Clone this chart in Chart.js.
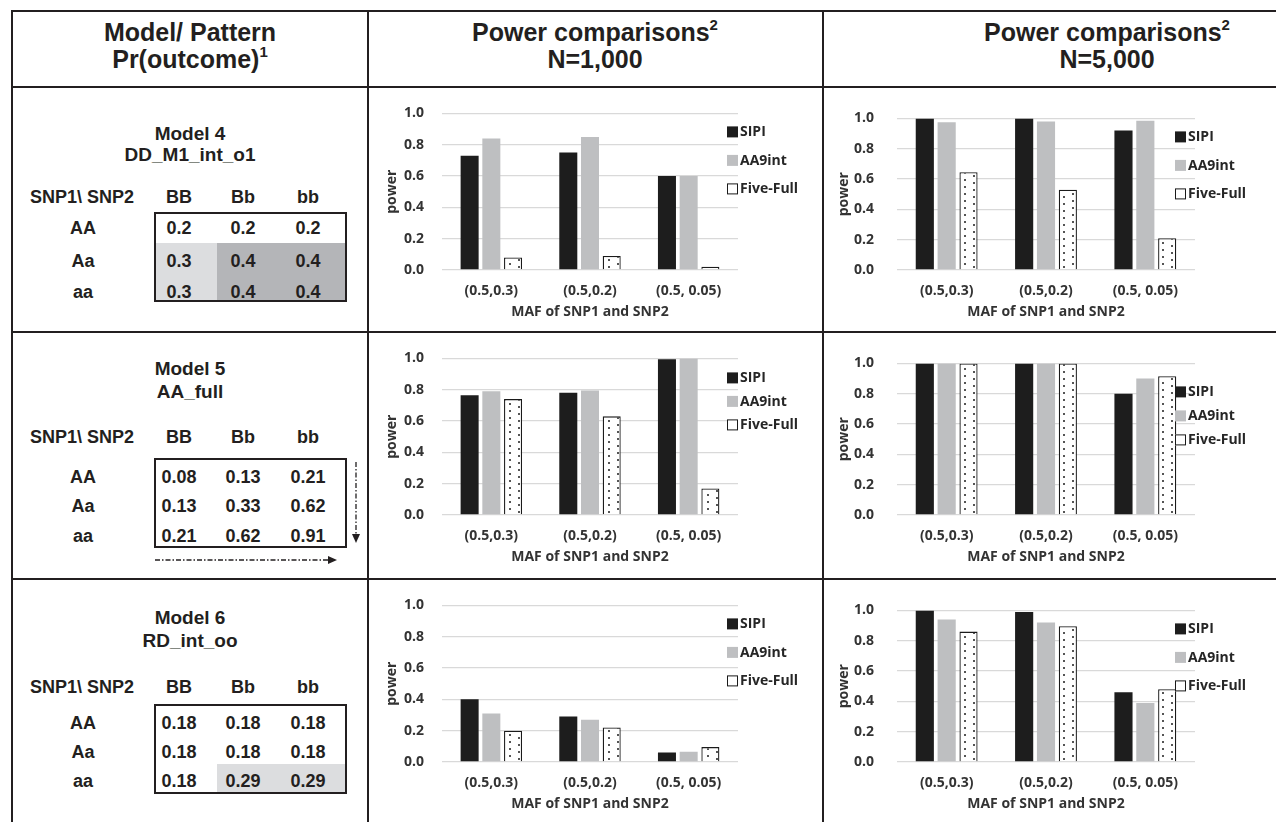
<!DOCTYPE html>
<html>
<head>
<meta charset="utf-8">
<script src="https://cdn.jsdelivr.net/npm/chart.js@4.4.1/dist/chart.umd.min.js"></script>
<style>
  body { margin: 0; width: 1276px; height: 822px; overflow: hidden; background: #fff; position: relative;
         font-family: "Liberation Sans", Arial, sans-serif; color: #231f20; }
  .ln { position: absolute; background: #231f20; }
  .t { position: absolute; font-weight: bold; white-space: nowrap; transform: translate(-50%, -50%); line-height: 1; }
  .box { position: absolute; border: 2px solid #231f20; box-sizing: border-box; }
  .shade { position: absolute; }
  canvas { position: absolute; }
  sup { font-size: 15px; vertical-align: top; position: relative; top: -3px; }
</style>
</head>
<body>
<script>
// categories / legend / ticks
const categories = ['(0.5,0.3)', '(0.5,0.2)', '(0.5, 0.05)'];
const seriesNames = ['SIPI', 'AA9int', 'Five-Full'];
const yTicks = [0, 0.2, 0.4, 0.6, 0.8, 1.0];

// Model 4  DD_M1_int_o1
const m4n1000Sipi = [0.73, 0.75, 0.60];
const m4n1000Aa9 = [0.84, 0.85, 0.60];
const m4n1000Five = [0.08, 0.09, 0.02];
const m4n5000Sipi = [1.00, 1.00, 0.92];
const m4n5000Aa9 = [0.975, 0.98, 0.985];
const m4n5000Five = [0.645, 0.53, 0.21];

// Model 5  AA_full
const m5n1000Sipi = [0.765, 0.78, 0.995];
const m5n1000Aa9 = [0.79, 0.795, 1.00];
const m5n1000Five = [0.74, 0.63, 0.17];
const m5n5000Sipi = [1.00, 1.00, 0.80];
const m5n5000Aa9 = [1.00, 1.00, 0.90];
const m5n5000Five = [1.00, 1.00, 0.915];

// Model 6  RD_int_oo
const m6n1000Sipi = [0.40, 0.29, 0.06];
const m6n1000Aa9 = [0.31, 0.27, 0.065];
const m6n1000Five = [0.20, 0.22, 0.095];
const m6n5000Sipi = [1.00, 0.99, 0.46];
const m6n5000Aa9 = [0.94, 0.92, 0.39];
const m6n5000Five = [0.86, 0.895, 0.48];

// left column tables
const snp1Labels = ['AA', 'Aa', 'aa'];
const snp2Labels = ['BB', 'Bb', 'bb'];
const model4Title = ['Model 4', 'DD_M1_int_o1'];
const model5Title = ['Model 5', 'AA_full'];
const model6Title = ['Model 6', 'RD_int_oo'];
const model4Pr = [['0.2', '0.2', '0.2'], ['0.3', '0.4', '0.4'], ['0.3', '0.4', '0.4']];
const model5Pr = [['0.08', '0.13', '0.21'], ['0.13', '0.33', '0.62'], ['0.21', '0.62', '0.91']];
const model6Pr = [['0.18', '0.18', '0.18'], ['0.18', '0.18', '0.18'], ['0.18', '0.29', '0.29']];

const page = document.body;
const INK = '#231f20';

function el(cls, x, y, w, h) {
  const d = document.createElement('div');
  d.className = cls;
  d.style.left = x + 'px'; d.style.top = y + 'px';
  if (w != null) d.style.width = w + 'px';
  if (h != null) d.style.height = h + 'px';
  page.appendChild(d);
  return d;
}
function txt(x, y, html, size) {
  const d = el('t', x, y);
  d.style.fontSize = size + 'px';
  d.innerHTML = html;
}

// table rules
el('ln', 11, 10, 1265, 2);
el('ln', 11, 86, 1265, 2);
el('ln', 11, 331, 1265, 2);
el('ln', 11, 578, 1265, 2);
el('ln', 11, 10, 2, 812);
el('ln', 367, 10, 2, 812);
el('ln', 822, 10, 2, 812);

// header
txt(190, 32, 'Model/ Pattern', 25);
txt(190, 59, 'Pr(outcome)<sup>1</sup>', 25);
txt(595, 32, 'Power comparisons<sup>2</sup>', 25);
txt(595, 59, 'N=1,000', 25);
txt(1107, 32, 'Power comparisons<sup>2</sup>', 25);
txt(1107, 59, 'N=5,000', 25);

const colX = [179, 243, 308];
function modelTable(title, pr, t1, t2, head, rows, boxTop, shades) {
  txt(190, t1, title[0], 19);
  txt(190, t2, title[1], 19);
  txt(82, head, 'SNP1\\ SNP2', 18);
  snp2Labels.forEach((s, j) => txt(colX[j], head, s, 18));
  shades.forEach(s => { el('shade', s[0], s[1], s[2], s[3]).style.background = s[4]; });
  el('box', 154, boxTop, 193, 90);
  snp1Labels.forEach((s, i) => {
    txt(83, rows[i], s, 18);
    pr[i].forEach((v, j) => txt(colX[j], rows[i], v, 18));
  });
}
modelTable(model4Title, model4Pr, 133, 154, 197, [228, 261, 292], 212,
  [[155, 243, 62, 58, '#dcdddf'], [217, 243, 128, 58, '#b4b5b8']]);
modelTable(model5Title, model5Pr, 368, 391, 437, [477, 506, 536], 458, []);
modelTable(model6Title, model6Pr, 617, 640, 687, [723, 752, 781], 704,
  [[217, 764, 128, 28, '#dcdddf']]);

// dash-dot arrows under model 5
const svgNS = 'http://www.w3.org/2000/svg';
const svg = document.createElementNS(svgNS, 'svg');
svg.setAttribute('width', 1276); svg.setAttribute('height', 822);
svg.style.position = 'absolute'; svg.style.left = '0'; svg.style.top = '0';
svg.innerHTML =
  '<line x1="356" y1="462" x2="356" y2="534" stroke="' + INK + '" stroke-width="1.3" stroke-dasharray="5 2 1.5 2"/>' +
  '<polygon points="352,534 360,534 356,543" fill="' + INK + '"/>' +
  '<line x1="155" y1="560" x2="328" y2="560" stroke="' + INK + '" stroke-width="1.3" stroke-dasharray="5 2 1.5 2"/>' +
  '<polygon points="328,556 328,564 337,560" fill="' + INK + '"/>';
page.appendChild(svg);

// charts
const FONT = { family: "'Open Sans', sans-serif", weight: 'bold', size: 14 };
const TXT = '#333333';
const fills = ['#1d1d1d', '#bebfc1', '#ffffff'];

const sideLegend = {
  id: 'sideLegend',
  afterDraw(chart, args, opts) {
    const { ctx, chartArea } = chart;
    ctx.save();
    ctx.font = 'bold 14px "Open Sans"';
    ctx.textBaseline = 'middle';
    seriesNames.forEach((name, i) => {
      const x = chartArea.right + opts.dx;
      const y = chartArea.top + opts.dy + i * opts.gap;
      ctx.fillStyle = fills[i];
      ctx.fillRect(x, y - 5, 11, 11);
      if (i === 2) {
        ctx.strokeStyle = '#1a1a1a';
        ctx.lineWidth = 1;
        ctx.strokeRect(x + 0.5, y - 4.5, 10, 10);
      }
      ctx.fillStyle = '#262626';
      ctx.fillText(name, x + 13, y + 1);
    });
    ctx.restore();
  }
};

const midCol = { x: 380, w: 440, padR: 82, tickPad: 18, titlePad: 4 };
const rightCol = { x: 835, w: 441, padR: 81, tickPad: 23, titlePad: 1 };

function drawChart(col, top, sipi, aa9, five, leg) {
  const cv = document.createElement('canvas');
  cv.width = col.w; cv.height = 235;
  cv.style.left = col.x + 'px'; cv.style.top = top + 'px';
  page.appendChild(cv);
  const ctx = cv.getContext('2d');

  const tile = document.createElement('canvas');
  tile.width = 18; tile.height = 7;
  const tg = tile.getContext('2d');
  tg.fillStyle = '#fff'; tg.fillRect(0, 0, 18, 7);
  tg.fillStyle = '#555';
  tg.fillRect(3, 1, 2, 2);
  tg.fillRect(12, 4, 2, 2);
  const dots = ctx.createPattern(tile, 'repeat');

  new Chart(cv, {
    type: 'bar',
    data: {
      labels: categories,
      datasets: [
        { label: seriesNames[0], data: sipi, backgroundColor: fills[0], borderWidth: 0 },
        { label: seriesNames[1], data: aa9, backgroundColor: fills[1], borderWidth: 0 },
        { label: seriesNames[2], data: five, backgroundColor: dots, borderColor: '#1a1a1a', borderWidth: 1.3, borderSkipped: 'bottom' }
      ]
    },
    options: {
      responsive: false,
      animation: false,
      devicePixelRatio: 1,
      layout: { padding: { left: 0, right: col.padR, top: 22, bottom: 0 } },
      datasets: { bar: { categoryPercentage: 0.66, barPercentage: 0.83 } },
      plugins: { legend: { display: false }, tooltip: { enabled: false }, sideLegend: leg },
      scales: {
        x: {
          grid: { display: false, drawTicks: false },
          border: { display: false },
          ticks: { font: FONT, color: TXT, padding: 13 },
          title: { display: true, text: 'MAF of SNP1 and SNP2', font: FONT, color: TXT, padding: { top: 0, bottom: 2 } },
          afterFit: s => { s.height = 52; }
        },
        y: {
          min: 0, max: 1,
          afterBuildTicks: s => { s.ticks = yTicks.map(v => ({ value: v })); },
          grid: { color: '#d9d9d9', lineWidth: 1.3, drawTicks: false },
          border: { display: false },
          ticks: { font: FONT, color: TXT, padding: col.tickPad, callback: v => Number(v).toFixed(1) },
          title: { display: true, text: 'power', font: FONT, color: TXT, padding: { top: col.titlePad, bottom: 0 } },
          afterFit: s => { s.width = 62; }
        }
      }
    },
    plugins: [sideLegend]
  });
}

drawChart(midCol, 87, m4n1000Sipi, m4n1000Aa9, m4n1000Five, { dx: -11, dy: 18, gap: 28.5 });
drawChart(rightCol, 87, m4n5000Sipi, m4n5000Aa9, m4n5000Five, { dx: -20, dy: 18, gap: 28.5 });
drawChart(midCol, 332, m5n1000Sipi, m5n1000Aa9, m5n1000Five, { dx: -11, dy: 19, gap: 23.5 });
drawChart(rightCol, 332, m5n5000Sipi, m5n5000Aa9, m5n5000Five, { dx: -20, dy: 28, gap: 24 });
drawChart(midCol, 579, m6n1000Sipi, m6n1000Aa9, m6n1000Five, { dx: -11, dy: 18, gap: 28.5 });
drawChart(rightCol, 579, m6n5000Sipi, m6n5000Aa9, m6n5000Five, { dx: -20, dy: 18, gap: 28.5 });
</script>
</body>
</html>
